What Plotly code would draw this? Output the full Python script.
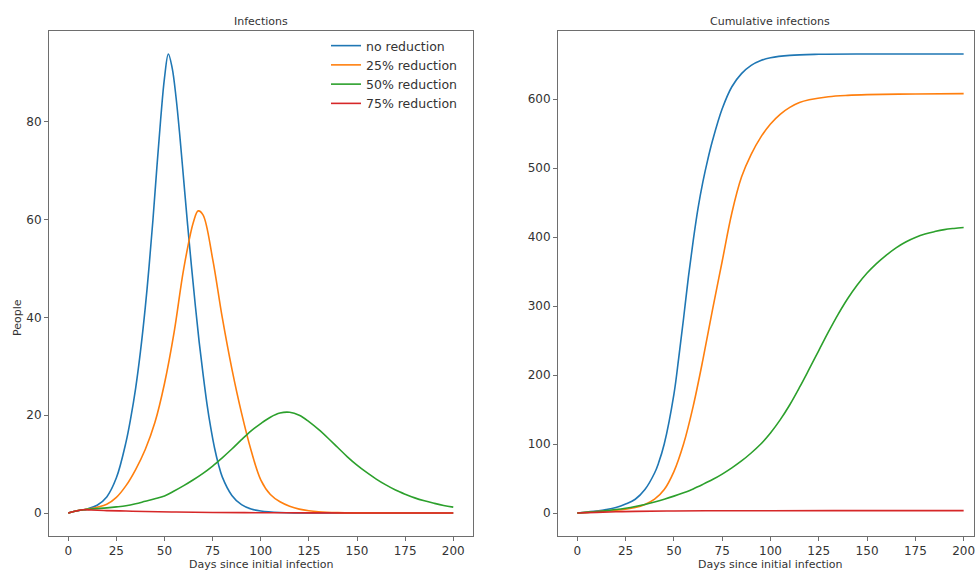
import plotly.graph_objects as go

W, H = 975, 570

series_names = ["no reduction", "25% reduction", "50% reduction", "75% reduction"]
colors = ["#1f77b4", "#ff7f0e", "#2ca02c", "#d62728"]

x_ticks = [0, 25, 50, 75, 100, 125, 150, 175, 200]
left_y_ticks = [0, 20, 40, 60, 80]
right_y_ticks = [0, 100, 200, 300, 400, 500, 600]

# ---- Infections (left panel) ----
inf_days_none = [0, 4, 8, 10, 15, 20, 25, 30, 32.5, 35, 37.5, 40, 42, 44, 46, 48, 50, 52, 54, 56, 58, 60,
                 62, 64, 66, 68, 70, 72, 74, 76, 78, 80, 85, 90, 95, 100, 110, 120, 150, 200]
inf_none = [0, 0.4, 0.67, 0.85, 1.6, 3.3, 7.2, 14.5, 19.5, 25.5, 33, 42, 50.5, 60, 70.5, 80.5, 89, 93.9, 91,
            85, 77, 68, 59, 50.5, 42.5, 35, 28.5, 22.5, 17.5, 13.3, 10, 7.4, 3.6, 1.7, 0.8, 0.4, 0.1, 0.03, 0, 0]

inf_days_25 = [0, 5, 10, 15, 20, 25, 30, 35, 40, 45, 50, 55, 60, 65, 67.5, 70, 75, 80, 85, 90, 95, 100, 105,
               110, 115, 120, 125, 130, 140, 150, 200]
inf_25 = [0, 0.5, 0.8, 1.2, 1.8, 3.2, 5.6, 8.9, 13, 18.5, 26.5, 37, 50, 59.5, 61.8, 61, 52, 40, 29.5, 20.5,
          12.8, 6.8, 3.8, 2.3, 1.4, 0.8, 0.45, 0.25, 0.08, 0.03, 0]

inf_days_50 = [0, 4, 8, 10, 15, 20, 25, 30, 35, 40, 45, 50, 55, 60, 65, 70, 75, 80, 85, 90, 95, 100, 105, 110,
               115, 120, 125, 130, 135, 140, 145, 150, 155, 160, 165, 170, 175, 180, 185, 190, 195, 200]
inf_50 = [0, 0.4, 0.67, 0.75, 0.9, 1.05, 1.25, 1.5, 1.9, 2.4, 2.9, 3.5, 4.5, 5.6, 6.8, 8.1, 9.6, 11.3, 13.1,
          15.0, 16.8, 18.3, 19.6, 20.45, 20.6, 20.0, 18.7, 17.1, 15.3, 13.4, 11.5, 9.8, 8.3, 6.95, 5.75, 4.7,
          3.85, 3.1, 2.5, 2.0, 1.55, 1.2]

inf_days_75 = [0, 4, 8, 12, 20, 30, 40, 56, 75, 100, 125, 150, 200]
inf_75 = [0, 0.4, 0.67, 0.62, 0.5, 0.4, 0.3, 0.2, 0.12, 0.06, 0.03, 0.015, 0.005]

# ---- Cumulative infections (right panel) ----
cum_days_none = [0, 5, 10, 15, 20, 25, 30, 35, 40, 42, 45, 50, 52.5, 55, 57.5, 60, 62.5, 65, 67.5, 70, 75, 80,
                 85, 90, 95, 100, 110, 125, 150, 200]
cum_none = [0, 1.5, 3, 5, 8, 13, 20, 34, 58, 72, 100, 172, 225, 282, 342, 395, 442, 480, 512, 540, 586, 618,
            637, 649, 656, 660, 663.5, 665, 665.5, 665.5]

cum_days_25 = [0, 5, 10, 15, 20, 25, 30, 35, 40, 45, 50, 55, 60, 65, 70, 75, 80, 85, 90, 95, 100, 105, 110,
               115, 120, 130, 140, 150, 175, 200]
cum_25 = [0, 1, 2, 3, 4, 5.5, 8, 12.5, 20, 34, 60, 100, 155, 222, 295, 365, 435, 487, 520, 545, 564, 578,
          588, 595, 599, 603.5, 605.5, 606.5, 607.5, 608]

cum_days_50 = [0, 5, 10, 15, 20, 25, 30, 35, 40, 45, 50, 55, 60, 65, 70, 75, 80, 85, 90, 95, 100, 105, 110,
               115, 120, 125, 130, 135, 140, 145, 150, 155, 160, 165, 170, 175, 180, 185, 190, 195, 200]
cum_50 = [0, 1, 2, 3.5, 5, 7, 9.5, 12.5, 16, 20, 24.5, 29.5, 35, 41.5, 48.5, 56.5, 65.5, 75.5, 87, 100, 116,
          135, 157, 182, 208.5, 235.5, 262.5, 288, 311, 331, 348, 362, 374, 384.5, 393, 399.5, 404.5, 408,
          410.8, 412.6, 414]

cum_days_75 = [0, 10, 20, 30, 50, 75, 100, 150, 200]
cum_75 = [0, 1, 1.8, 2.4, 3.0, 3.3, 3.4, 3.5, 3.5]

inf_sets = [(inf_days_none, inf_none), (inf_days_25, inf_25), (inf_days_50, inf_50), (inf_days_75, inf_75)]
cum_sets = [(cum_days_none, cum_none), (cum_days_25, cum_25), (cum_days_50, cum_50), (cum_days_75, cum_75)]

FONT = "DejaVu Sans"
TXT = "#333333"
SPINE = "#6e6e6e"

fig = go.Figure()
for (dx, dy), name, c in zip(inf_sets, series_names, colors):
    fig.add_trace(go.Scatter(x=dx, y=dy, mode="lines", name=name, line=dict(color=c, width=1.6, shape="spline"),
                             xaxis="x", yaxis="y", showlegend=True))
for (dx, dy), name, c in zip(cum_sets, series_names, colors):
    fig.add_trace(go.Scatter(x=dx, y=dy, mode="lines", name=name, line=dict(color=c, width=1.6, shape="spline"),
                             xaxis="x2", yaxis="y2", showlegend=False))

def px_x(p):
    return p / W

def px_y(p):
    return (H - p) / H

axis_common = dict(showgrid=False, zeroline=False, showline=True, linecolor=SPINE, linewidth=1, mirror=True,
                   ticks="outside", ticklen=4, tickwidth=1, tickcolor=SPINE, automargin=False,
                   ticklabeloverflow="allow",
                   tickfont=dict(family=FONT, size=12, color=TXT))

fig.update_layout(
    width=W, height=H, margin=dict(l=0, r=0, t=0, b=0, autoexpand=False),
    paper_bgcolor="white", plot_bgcolor="white",
    xaxis=dict(domain=[px_x(49), px_x(472.5)], range=[-10, 210], tickvals=x_ticks, anchor="y", **axis_common),
    yaxis=dict(domain=[px_y(536), px_y(31)], range=[-4.7, 98.6], tickvals=left_y_ticks, anchor="x", **axis_common),
    xaxis2=dict(domain=[px_x(558), px_x(973.5)], range=[-10, 205.1], tickvals=x_ticks, anchor="y2", **axis_common),
    yaxis2=dict(domain=[px_y(536), px_y(31)], range=[-33.3, 698.8], tickvals=right_y_ticks, anchor="x2", **axis_common),
    showlegend=True,
    legend=dict(x=px_x(326), y=px_y(31), xanchor="left", yanchor="top", bgcolor="rgba(0,0,0,0)",
                font=dict(family=FONT, size=12.5, color=TXT), itemwidth=30, tracegroupgap=0),
)

ann_font = dict(family=FONT, size=11, color=TXT)
annotations = [
    dict(text="Infections", x=px_x(261), y=px_y(21)),
    dict(text="Cumulative infections", x=px_x(770), y=px_y(21)),
    dict(text="Days since initial infection", x=px_x(261), y=px_y(564.5)),
    dict(text="Days since initial infection", x=px_x(770), y=px_y(564.5)),
    dict(text="People", x=px_x(17), y=px_y(318), textangle=-90),
]
for a in annotations:
    fig.add_annotation(xref="paper", yref="paper", xanchor="center", yanchor="middle", showarrow=False,
                       font=ann_font, **a)

fig.write_html("out.html", config={"displayModeBar": False},
               post_script="document.body.style.margin='0';document.body.style.overflow='hidden';")
